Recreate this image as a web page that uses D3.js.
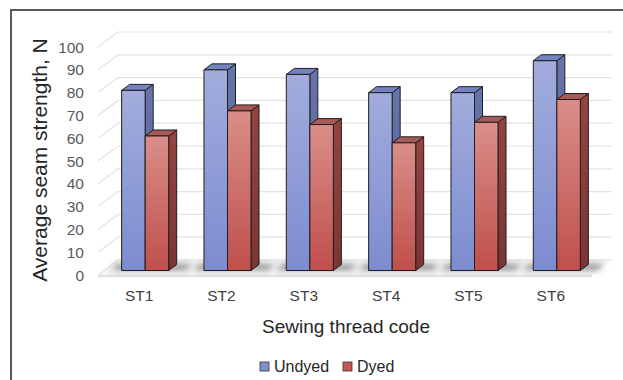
<!DOCTYPE html>
<html>
<head>
<meta charset="utf-8">
<script src="https://cdn.jsdelivr.net/npm/d3@7"></script>
<style>
  html, body { margin: 0; padding: 0; background: #fff; }
  svg { display: block; font-family: "Liberation Sans", Arial, sans-serif; }
</style>
</head>
<body>
<svg id="chart" width="623" height="380"></svg>
<script>
// Average seam strength (N) per sewing thread
const categories = ["ST1", "ST2", "ST3", "ST4", "ST5", "ST6"];
const seriesNames = ["Undyed", "Dyed"];
const undyed = [79, 88, 86, 78, 78, 92];
const dyed = [59, 70, 64, 56, 65, 75];
const yTicks = [0, 10, 20, 30, 40, 50, 60, 70, 80, 90, 100];

const svg = d3.select("#chart");
const W = 623, H = 380;

// Oblique depth projection of the 3-D plot box
const DX = 20, DY = -15;          // offset of the back wall from the front plane
const BAR_F0 = 0.3, BAR_F1 = 0.7; // depth band occupied by the columns

const x = d3.scaleBand().domain(categories).range([98, 592]).padding(0);
const xs = d3.scaleBand().domain(seriesNames).range([0, x.bandwidth()])
  .paddingInner(0).paddingOuter(0.75);
const y = d3.scaleLinear().domain([0, 100]).range([275, 47]);

const proj = (px, py, f) => [px + DX * f, py + DY * f];

const defs = svg.append("defs");
function grad(id, top, bottom) {
  const g = defs.append("linearGradient").attr("id", id)
    .attr("x1", 0).attr("y1", 0).attr("x2", 0).attr("y2", 1);
  g.append("stop").attr("offset", "0%").attr("stop-color", top);
  g.append("stop").attr("offset", "100%").attr("stop-color", bottom);
}
grad("frontU", "#a2acdc", "#7c8cd0");
grad("frontD", "#da8e89", "#bf4f4b");
grad("sideU", "#6774ab", "#55629a");
grad("sideD", "#944441", "#7c3533");
defs.append("filter").attr("id", "shadowBlur")
  .attr("x", "-50%").attr("y", "-200%").attr("width", "200%").attr("height", "500%")
  .append("feGaussianBlur").attr("stdDeviation", 3);

const style = {
  Undyed: { front: "url(#frontU)", side: "url(#sideU)", top: "#7383c0", legend: "#8190cf" },
  Dyed:   { front: "url(#frontD)", side: "url(#sideD)", top: "#a95a56", legend: "#c55a55" }
};

// Chart frame
svg.append("path").attr("d", `M11,${H} L11,10 L${W},10`)
  .attr("fill", "none").attr("stroke", "#595959").attr("stroke-width", 2);

// Floor
const [x0, x1] = x.range();
const floorPts = [proj(x0, y(0), 0), proj(x1, y(0), 0), proj(x1, y(0), 1), proj(x0, y(0), 1)];
svg.append("polygon").attr("points", floorPts.map(p => p.join(",")).join(" "))
  .attr("fill", "#f6f6f6");
svg.append("line").attr("x1", x0).attr("x2", x1).attr("y1", y(0) + 1).attr("y2", y(0) + 1)
  .attr("stroke", "#e3e3e3").attr("stroke-width", 2.5);

// Gridlines: diagonal on the side wall, horizontal on the back wall
const grid = svg.append("g").attr("fill", "none").attr("stroke", "#e2e2e2").attr("stroke-width", 1.2);
yTicks.forEach(v => {
  const a = proj(x0, y(v), 0), b = proj(x0, y(v), 1), c = proj(x1, y(v), 1);
  grid.append("polyline").attr("points", [a, b, c].map(p => p.join(",")).join(" "));
});

// Value axis labels
svg.append("g").selectAll("text").data(yTicks).join("text")
  .attr("x", 84).attr("y", d => y(d)).attr("dy", "0.36em")
  .attr("text-anchor", "end").attr("font-size", 15.5).attr("fill", "#595959")
  .text(d => d);

// Column data
const rows = categories.map((c, i) => ({ cat: c, values: [
  { series: "Undyed", value: undyed[i] },
  { series: "Dyed", value: dyed[i] }
]}));

// Contact shadows on the floor
svg.append("g").attr("filter", "url(#shadowBlur)").selectAll("polygon").data(rows).join("polygon")
  .attr("points", d => {
    const l = x(d.cat) + xs("Undyed") - 12, r = x(d.cat) + xs("Dyed") + xs.bandwidth() + 16;
    return [proj(l, y(0), BAR_F0 + 0.05), proj(r, y(0), BAR_F0 + 0.05),
            proj(r, y(0), BAR_F1), proj(l, y(0), BAR_F1)].map(p => p.join(",")).join(" ");
  })
  .attr("fill", "#2e2e2e").attr("opacity", 0.6);

// 3-D columns
const barG = svg.append("g").attr("stroke", "#1e1e1e").attr("stroke-width", 1).attr("stroke-linejoin", "round");
rows.forEach(row => {
  row.values.forEach(d => {
    const l = x(row.cat) + xs(d.series), r = l + xs.bandwidth();
    const t = y(d.value), b = y(0);
    const st = style[d.series];
    const pts = arr => arr.map(p => p.join(",")).join(" ");
    // side face
    barG.append("polygon").attr("fill", st.side)
      .attr("points", pts([proj(r, t, BAR_F0), proj(r, t, BAR_F1), proj(r, b, BAR_F1), proj(r, b, BAR_F0)]));
    // top face
    barG.append("polygon").attr("fill", st.top)
      .attr("points", pts([proj(l, t, BAR_F0), proj(r, t, BAR_F0), proj(r, t, BAR_F1), proj(l, t, BAR_F1)]));
    // front face
    const [fx, fy] = proj(l, t, BAR_F0);
    barG.append("rect").attr("x", fx).attr("y", fy)
      .attr("width", r - l).attr("height", b - t).attr("fill", st.front);
  });
});

// Category labels
svg.append("g").selectAll("text").data(categories).join("text")
  .attr("x", d => x(d) + x.bandwidth() / 2).attr("y", 300.5)
  .attr("text-anchor", "middle").attr("font-size", 15.5).attr("fill", "#404040")
  .text(d => d);

// Axis titles
svg.append("text").attr("x", 346).attr("y", 333).attr("text-anchor", "middle")
  .attr("font-size", 19).attr("fill", "#262626").text("Sewing thread code");
svg.append("text").attr("transform", "translate(47,160) rotate(-90)")
  .attr("text-anchor", "middle").attr("font-size", 21).attr("fill", "#262626")
  .text("Average seam strength, N");

// Legend
const legend = svg.append("g");
const legendItems = [{ name: "Undyed", x: 260 }, { name: "Dyed", x: 343 }];
legendItems.forEach(it => {
  legend.append("rect").attr("x", it.x).attr("y", 362).attr("width", 9).attr("height", 9)
    .attr("fill", style[it.name].legend).attr("stroke", "#333").attr("stroke-width", 0.8);
  legend.append("text").attr("x", it.x + 14).attr("y", 372).attr("font-size", 16)
    .attr("fill", "#262626").text(it.name);
});
</script>
</body>
</html>
